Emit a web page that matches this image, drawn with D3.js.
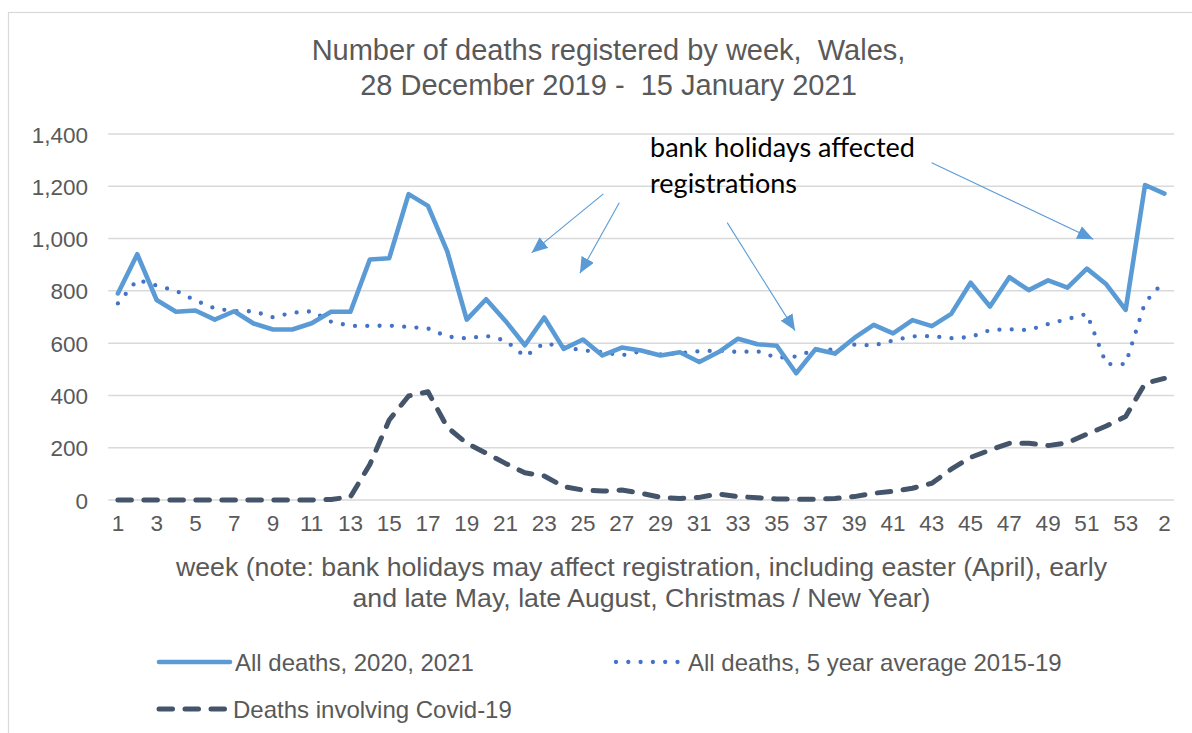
<!DOCTYPE html>
<html>
<head>
<meta charset="utf-8">
<script src="https://cdn.jsdelivr.net/npm/d3@7"></script>
<style>
  html, body { margin: 0; padding: 0; background: #fff; }
  svg { display: block; }
  text { font-family: "Liberation Sans", Arial, sans-serif; }
</style>
</head>
<body>
<svg id="chart" width="1192" height="733"></svg>
<script>
// ---------- data ----------
const weekLabels = ["1","2","3","4","5","6","7","8","9","10","11","12","13","14","15","16","17","18","19","20",
  "21","22","23","24","25","26","27","28","29","30","31","32","33","34","35","36","37","38","39","40",
  "41","42","43","44","45","46","47","48","49","50","51","52","53","1","2"];

const allDeaths = [790,940,765,720,725,690,722,675,652,652,676,720,720,920,925,1170,1125,950,690,768,
  685,592,698,578,614,553,583,572,553,565,528,566,617,596,590,485,577,560,620,670,
  637,688,665,712,831,740,852,803,840,812,885,825,727,1205,1172];

const avgDeaths = [752,842,820,800,763,733,722,722,699,716,722,682,666,666,667,662,656,625,618,628,
  610,549,600,585,572,566,553,569,557,562,569,571,566,569,544,549,575,575,594,591,
  610,626,627,619,623,650,653,650,673,692,712,520,520,755,838];

const covidDeaths = [0,0,0,0,0,0,0,0,0,0,0,2,12,136,306,398,414,278,217,179,
  140,104,92,51,38,34,38,26,10,6,10,23,13,9,4,3,3,6,13,26,
  33,45,64,118,163,191,217,217,208,219,252,283,319,446,465];

const yTicks = [0,200,400,600,800,1000,1200,1400];

const seriesNames = ["All deaths, 2020, 2021", "All deaths, 5 year average 2015-19", "Deaths involving Covid-19"];

const titleLines = ["Number of deaths registered by week,  Wales,", "28 December 2019 -  15 January 2021"];
const xTitleLines = ["week (note: bank holidays may affect registration, including easter (April), early",
  "and late May, late August, Christmas / New Year)"];
const noteLines = ["bank holidays affected", "registrations"];
// annotation arrows in data space: [fromWeekIndex, fromValue, toWeekIndex, toValue]
const noteArrows = [[25.05,1171,21.35,946],[25.87,1137,23.84,867],[31.44,1061,34.94,648],[41.99,1290,50.33,997]];

// ---------- layout ----------
const svg = d3.select("#chart");
const W = 1192, H = 733;
const plot = {left: 108.2, right: 1174.1, top: 134, bottom: 500};
const grey = "#595959";

svg.append("rect").attr("width", W).attr("height", H).attr("fill", "#fff");
svg.append("rect").attr("x", 8.5).attr("y", 12.5).attr("width", 1400).attr("height", 1000)
  .attr("fill", "none").attr("stroke", "#D9D9D9").attr("stroke-width", 1.2);

const idx = d3.range(weekLabels.length);
const x = d3.scaleBand().domain(idx).range([plot.left, plot.right]).paddingInner(0).paddingOuter(0);
const cx = i => x(i) + x.bandwidth() / 2;
const xl = d3.scaleLinear().domain([0, weekLabels.length - 1]).range([cx(0), cx(weekLabels.length - 1)]);
const y = d3.scaleLinear().domain([0, 1400]).range([plot.bottom, plot.top]);

// gridlines
svg.append("g").selectAll("line").data(yTicks).join("line")
  .attr("x1", plot.left).attr("x2", plot.right)
  .attr("y1", d => y(d)).attr("y2", d => y(d))
  .attr("stroke", "#D9D9D9").attr("stroke-width", 1.5);

// y axis labels
const yAxis = d3.axisLeft(y).tickValues(yTicks).tickFormat(d3.format(",")).tickSize(0).tickPadding(0);
const gy = svg.append("g").attr("transform", `translate(${88},0)`).call(yAxis);
gy.select(".domain").remove();
gy.selectAll("text").attr("fill", grey).style("font-size", "22.5px").attr("dy", "0.36em")
  .style("font-family", "'Liberation Sans', Arial, sans-serif");

// x axis labels
const xAxis = d3.axisBottom(x).tickValues(idx.filter(i => i % 2 === 0))
  .tickFormat(i => weekLabels[i]).tickSize(0).tickPadding(0);
const gx = svg.append("g").attr("transform", `translate(0,${515})`).call(xAxis);
gx.select(".domain").remove();
gx.selectAll("text").attr("fill", grey).style("font-size", "22.5px").attr("dy", "0.71em")
  .style("font-family", "'Liberation Sans', Arial, sans-serif");

// lines
const line = d3.line().x((d, i) => cx(i)).y(d => y(d));
svg.append("path").datum(covidDeaths).attr("d", line).attr("fill", "none")
  .attr("stroke", "#44546A").attr("stroke-width", 5).attr("stroke-linecap", "round")
  .attr("stroke-linejoin", "round").attr("stroke-dasharray", "13.5 12.5");
svg.append("path").datum(avgDeaths).attr("d", line).attr("fill", "none")
  .attr("stroke", "#4472C4").attr("stroke-width", 4.3).attr("stroke-linecap", "round")
  .attr("stroke-linejoin", "round").attr("stroke-dasharray", "0 12.3");
svg.append("path").datum(allDeaths).attr("d", line).attr("fill", "none")
  .attr("stroke", "#5B9BD5").attr("stroke-width", 4.6).attr("stroke-linejoin", "round")
  .attr("stroke-linecap", "round");

// title
svg.append("g").selectAll("text").data(titleLines).join("text")
  .attr("x", 608.5).attr("y", (d, i) => 60 + i * 35)
  .attr("text-anchor", "middle").attr("fill", grey).style("font-size", "29px")
  .style("white-space", "pre").text(d => d);

// x axis title
svg.append("g").selectAll("text").data(xTitleLines).join("text")
  .attr("x", 641.5).attr("y", (d, i) => 576 + i * 31)
  .attr("text-anchor", "middle").attr("fill", grey).style("font-size", "26.7px")
  .text(d => d);

// annotation
const defs = svg.append("defs");
defs.append("marker").attr("id", "tri").attr("viewBox", "0 0 16 14").attr("refX", 16).attr("refY", 7)
  .attr("markerWidth", 16).attr("markerHeight", 14).attr("markerUnits", "userSpaceOnUse")
  .attr("orient", "auto")
  .append("path").attr("d", "M0,0 L16,7 L0,14 Z").attr("fill", "#5B9BD5");
svg.append("g").selectAll("line").data(noteArrows).join("line")
  .attr("x1", d => xl(d[0])).attr("y1", d => y(d[1]))
  .attr("x2", d => xl(d[2])).attr("y2", d => y(d[3]))
  .attr("stroke", "#5B9BD5").attr("stroke-width", 1.1).attr("marker-end", "url(#tri)");
svg.append("g").selectAll("text").data(noteLines).join("text")
  .attr("x", xl(27.46)).attr("y", (d, i) => y(1312) + i * 36)
  .attr("fill", "#000").style("font-family", "Lato, 'Open Sans', sans-serif").style("font-size", "27px")
  .text(d => d);

// legend
const legendItems = [
  {name: seriesNames[0], x: 157, y: 662, color: "#5B9BD5", w: 4.6, dash: null, len: 73},
  {name: seriesNames[1], x: 614, y: 662, color: "#4472C4", w: 4.3, dash: "0 12.3", len: 69},
  {name: seriesNames[2], x: 157, y: 709, color: "#44546A", w: 5, dash: "13.5 12.5", len: 71}
];
const lg = svg.append("g").selectAll("g").data(legendItems).join("g");
lg.append("line").attr("x1", d => d.x + 2).attr("x2", d => d.x + d.len)
  .attr("y1", d => d.y).attr("y2", d => d.y)
  .attr("stroke", d => d.color).attr("stroke-width", d => d.w).attr("stroke-linecap", "round")
  .attr("stroke-dasharray", d => d.dash);
lg.append("text").attr("x", d => d.x + d.len + 5).attr("y", d => d.y + 8.5)
  .attr("fill", grey).style("font-size", "24px").text(d => d.name);
</script>
</body>
</html>
